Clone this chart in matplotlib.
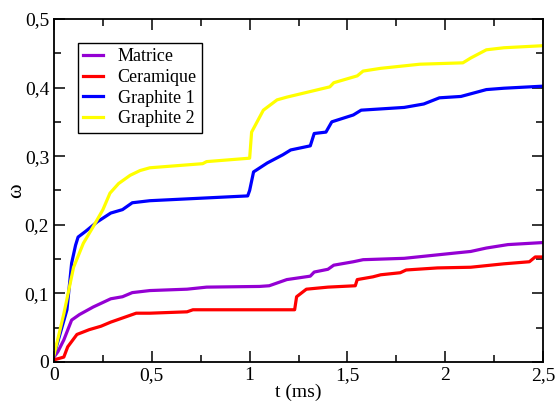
import matplotlib.pyplot as plt
from matplotlib.ticker import MultipleLocator, FuncFormatter

plt.rcParams['font.family'] = ['Liberation Serif', 'DejaVu Serif']

# Matrice
t_mat = [0, 0.02, 0.05, 0.09, 0.13, 0.2, 0.29, 0.35, 0.40, 0.49, 0.68, 0.78, 1.05, 1.10,
         1.19, 1.31, 1.33, 1.40, 1.43, 1.53, 1.58, 1.79, 2.06, 2.13, 2.21, 2.32, 2.5]
w_mat = [0.007, 0.015, 0.032, 0.061, 0.069, 0.080, 0.092, 0.095, 0.101, 0.104, 0.106, 0.109, 0.110, 0.111,
         0.120, 0.125, 0.131, 0.135, 0.141, 0.146, 0.149, 0.151, 0.159, 0.161, 0.166, 0.171, 0.174]

# Ceramique
t_cer = [0, 0.05, 0.07, 0.117, 0.18, 0.24, 0.29, 0.35, 0.42, 0.49, 0.68, 0.71, 1.23, 1.24, 1.29,
         1.40, 1.54, 1.55, 1.63, 1.67, 1.77, 1.80, 1.96, 2.13, 2.30, 2.43, 2.46, 2.5]
w_cer = [0.003, 0.007, 0.022, 0.040, 0.047, 0.052, 0.058, 0.064, 0.071, 0.071, 0.073, 0.076, 0.076, 0.095, 0.106,
         0.109, 0.111, 0.120, 0.124, 0.127, 0.130, 0.134, 0.137, 0.138, 0.143, 0.146, 0.153, 0.153]

# Graphite 1
t_gr1 = [0, 0.04, 0.066, 0.09, 0.11, 0.123, 0.16, 0.22, 0.29, 0.35, 0.40, 0.49, 0.99, 1.0, 1.02, 1.09,
         1.17, 1.21, 1.31, 1.33, 1.39, 1.42, 1.53, 1.57, 1.79, 1.89, 1.97, 2.08, 2.21, 2.30, 2.5]
w_gr1 = [0.010, 0.050, 0.076, 0.144, 0.170, 0.182, 0.190, 0.204, 0.217, 0.222, 0.232, 0.235, 0.242, 0.250, 0.277, 0.290,
         0.302, 0.309, 0.315, 0.333, 0.335, 0.350, 0.360, 0.367, 0.371, 0.376, 0.385, 0.387, 0.397, 0.399, 0.402]

# Graphite 2
t_gr2 = [0, 0.05, 0.1, 0.15, 0.2, 0.25, 0.286, 0.33, 0.389, 0.44, 0.49, 0.76, 0.78, 1.0, 1.01, 1.07, 1.14,
         1.19, 1.41, 1.43, 1.55, 1.58, 1.67, 1.87, 2.09, 2.13, 2.21, 2.30, 2.5]
w_gr2 = [0.010, 0.070, 0.138, 0.173, 0.197, 0.222, 0.246, 0.260, 0.272, 0.279, 0.283, 0.289, 0.292, 0.297, 0.335, 0.367, 0.382,
         0.386, 0.401, 0.407, 0.417, 0.424, 0.428, 0.434, 0.436, 0.443, 0.455, 0.458, 0.461]

fig = plt.figure(figsize=(5.57, 4.03), dpi=100)
ax = fig.add_axes([0.097, 0.102, 0.878, 0.851])

ax.plot(t_mat, w_mat, color='#9400d3', lw=2.3, label='Matrice')
ax.plot(t_cer, w_cer, color='#ff0000', lw=2.3, label='Ceramique')
ax.plot(t_gr1, w_gr1, color='#0000ff', lw=2.3, label='Graphite 1')
ax.plot(t_gr2, w_gr2, color='#ffff00', lw=2.3, label='Graphite 2')

ax.set_xlim(0, 2.5)
ax.set_ylim(0, 0.5)
ax.xaxis.set_major_locator(MultipleLocator(0.5))
ax.xaxis.set_minor_locator(MultipleLocator(0.25))
ax.yaxis.set_major_locator(MultipleLocator(0.1))
ax.yaxis.set_minor_locator(MultipleLocator(0.05))
fmt = FuncFormatter(lambda v, p: ('%g' % round(v, 2)).replace('.', ','))
ax.xaxis.set_major_formatter(fmt)
ax.yaxis.set_major_formatter(fmt)
ax.tick_params(which='both', direction='in', top=True, right=True, labelsize=14, width=1.1)
ax.tick_params(which='major', length=8)
ax.tick_params(which='minor', length=5)
for s in ax.spines.values():
    s.set_linewidth(1.3)

ax.set_xlabel('t (ms)', fontsize=14, labelpad=0)
ax.set_ylabel('ω', fontsize=16, labelpad=-1)

leg = ax.legend(loc='upper left', bbox_to_anchor=(0.049, 0.93), fontsize=13, handlelength=1.1,
                fancybox=False, framealpha=1, edgecolor='black', borderaxespad=0,
                labelspacing=0.2, borderpad=0.3, handletextpad=0.8)
leg.get_frame().set_linewidth(1.0)

plt.savefig('out.png', dpi=100)
